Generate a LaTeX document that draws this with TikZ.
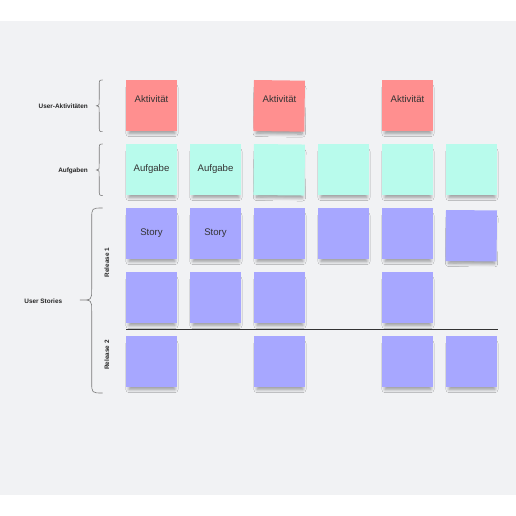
\documentclass[tikz,border=0pt]{standalone}
\usepackage{fontspec}
\setmainfont{Liberation Sans}
\usetikzlibrary{shadows.blur,calc}
\definecolor{bgc}{HTML}{F1F2F4}
\definecolor{redc}{HTML}{FF8F8F}
\definecolor{cyanc}{HTML}{B8FBEC}
\definecolor{purc}{HTML}{A7A7FF}
\definecolor{txtc}{HTML}{333333}
\definecolor{bracec}{HTML}{7A7A7A}
\tikzset{
  sticky/.style={anchor=north west, minimum width=51pt, minimum height=51pt, inner sep=0pt, outer sep=0pt,
    blur shadow={shadow xshift=0.5pt, shadow yshift=-5.5pt, shadow blur radius=3.5pt, shadow blur steps=8, shadow opacity=38, shadow scale=0.9}},
  act/.style={sticky, fill=redc},
  task/.style={sticky, fill=cyanc},
  story/.style={sticky, fill=purc},
  stxt/.style={font=\fontsize{9.6}{11}\selectfont, text=txtc, inner sep=0pt},
  lbl/.style={font=\fontsize{6.4}{7.5}\selectfont\bfseries, text=black!85, inner sep=0pt},
  bracestyle/.style={draw=bracec, line width=0.6pt},
}
\newcommand{\mybrace}[7]{%
  % #1 end x, #2 body x, #3 tip x, #4 top y, #5 mid y, #6 bottom y, #7 radius
  \draw[bracestyle] (#1,#4) .. controls (#2,#4) .. (#2,#4+#7) -- (#2,#5-#7)
     .. controls (#2,#5) .. (#3,#5) .. controls (#2,#5) .. (#2,#5+#7)
     -- (#2,#6-#7) .. controls (#2,#6) .. (#1,#6);}
\begin{document}
\begin{tikzpicture}[x=1pt,y=-1pt]
\useasboundingbox (0,0) rectangle (516,516);
\fill[white] (0,0) rectangle (516,516);
\fill[bgc] (0,21) rectangle (515.5,494.5);
% row 1: activities
\node[act] (a1) at (126,80) {};
\node[act, rotate=-0.8] (a3) at (254,80) {};
\node[act] (a5) at (382,80) {};
\node[stxt] (ta1) at ($(a1.north)+(0,19)$) {Aktivität};
\node[stxt] (ta3) at ($(a3.north)+(0,19)$) {Aktivität};
\node[stxt] (ta5) at ($(a5.north)+(0,19)$) {Aktivität};
% row 2: tasks
\node[task] (b1) at (126,144) {};
\node[task] (b2) at (190,144) {};
\node[task, rotate=-0.6] (b3) at (254,144) {};
\node[task] (b4) at (318,144) {};
\node[task] (b5) at (382,144) {};
\node[task] (b6) at (446,144) {};
\node[stxt] (tb1) at (b1.center) {Aufgabe};
\node[stxt] (tb2) at (b2.center) {Aufgabe};
% row 3: stories
\node[story] (c1) at (126,208) {};
\node[story] (c2) at (190,208) {};
\node[story] (c3) at (254,208) {};
\node[story] (c4) at (318,208) {};
\node[story] (c5) at (382,208) {};
\node[story, rotate=-0.5] (c6) at (446,210) {};
\node[stxt] (tc1) at (c1.center) {Story};
\node[stxt] (tc2) at (c2.center) {Story};
% row 4
\node[story] (d1) at (126,272) {};
\node[story] (d2) at (190,272) {};
\node[story] (d3) at (254,272) {};
\node[story] (d5) at (382,272) {};
% divider
\coordinate (l1) at (126,329.5);
\coordinate (l2) at (498,329.5);
\draw[line width=1pt, draw=txtc] (l1) -- (l2);
% row 5
\node[story] (e1) at (126,336) {};
\node[story] (e3) at (254,336) {};
\node[story] (e5) at (382,336) {};
\node[story] (e6) at (446,336) {};
% braces
\mybrace{102.7}{99.2}{96.5}{80}{105.8}{131.7}{7}
\mybrace{102.7}{99.2}{96.5}{144}{170}{195.5}{7}
\mybrace{102.7}{91.7}{80}{208}{300}{393}{11}
% labels
\node[lbl, anchor=east] (la) at (88,106.5) {User-Aktivitäten};
\node[lbl, anchor=east] (lb) at (88,170.5) {Aufgaben};
\node[lbl] (lc) at (43.3,301.5) {User Stories};
\node[lbl, rotate=90] (r1) at (106.8,262.5) {Release 1};
\node[lbl, rotate=90] (r2) at (106.8,355) {Release 2};
\end{tikzpicture}
\end{document}
